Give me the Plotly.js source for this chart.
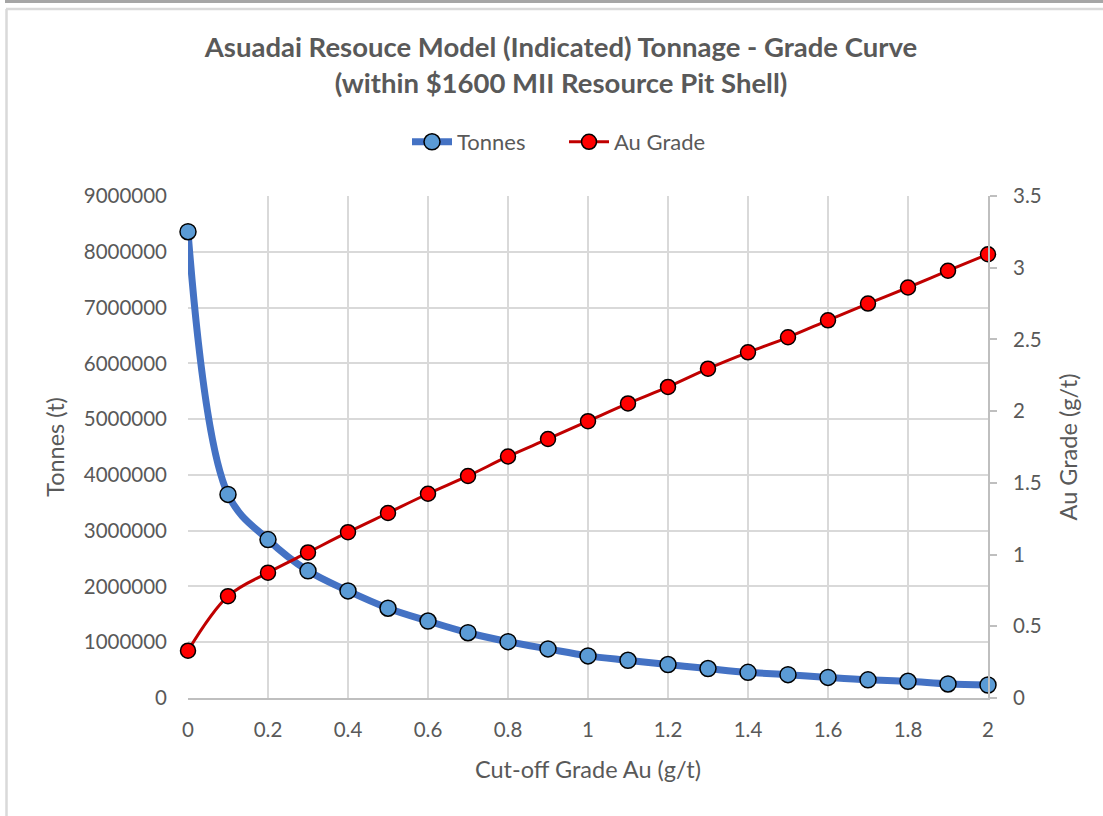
<!DOCTYPE html>
<html>
<head>
<meta charset="utf-8">
<script src="https://cdn.plot.ly/plotly-3.0.1.min.js"></script>
<style>
  html, body { margin: 0; padding: 0; background: #ffffff; }
  #chart { width: 1103px; height: 816px; }
</style>
</head>
<body>
<div id="chart"></div>
<script>
// Data
const cutoffGrades = [0, 0.1, 0.2, 0.3, 0.4, 0.5, 0.6, 0.7, 0.8, 0.9, 1.0, 1.1, 1.2, 1.3, 1.4, 1.5, 1.6, 1.7, 1.8, 1.9, 2.0];
const tonnes = [8360000, 3650000, 2840000, 2280000, 1920000, 1610000, 1380000, 1170000, 1010000, 880000, 755000, 676000, 600000, 528000, 460000, 418000, 369000, 326000, 300000, 252000, 233000];
const auGrade = [0.33, 0.71, 0.874, 1.015, 1.156, 1.29, 1.424, 1.548, 1.684, 1.806, 1.93, 2.054, 2.169, 2.296, 2.41, 2.515, 2.633, 2.75, 2.862, 2.979, 3.094];
const xTicks = [0, 0.2, 0.4, 0.6, 0.8, 1, 1.2, 1.4, 1.6, 1.8, 2];
const xTickText = ["0", "0.2", "0.4", "0.6", "0.8", "1", "1.2", "1.4", "1.6", "1.8", "2"];
const leftTicks = [0, 1000000, 2000000, 3000000, 4000000, 5000000, 6000000, 7000000, 8000000, 9000000];
const leftTickText = ["0", "1000000", "2000000", "3000000", "4000000", "5000000", "6000000", "7000000", "8000000", "9000000"];
const rightTicks = [0, 0.5, 1, 1.5, 2, 2.5, 3, 3.5];
const rightTickText = ["0", "0.5", "1", "1.5", "2", "2.5", "3", "3.5"];

const FONT = "Lato, 'Open Sans', 'DejaVu Sans', sans-serif";
const TXT = "#595959";

const traces = [
  {
    x: cutoffGrades, y: tonnes, name: "Tonnes", type: "scatter", mode: "lines+markers",
    line: { color: "#4472c4", width: 7, shape: "spline", smoothing: 1 },
    marker: { color: "#5b9bd5", size: 16, line: { color: "#000000", width: 1.5 } },
    cliponaxis: false, yaxis: "y"
  },
  {
    x: cutoffGrades, y: auGrade, name: "Au Grade", type: "scatter", mode: "lines+markers",
    line: { color: "#c00000", width: 3, shape: "spline", smoothing: 1 },
    marker: { color: "#ff0000", size: 15, line: { color: "#000000", width: 1.5 } },
    cliponaxis: false, yaxis: "y2"
  }
];

const px = p => (p - 188) / 800;
const py = p => (698 - p) / 502;

const layout = {
  width: 1103, height: 816,
  margin: { l: 188, r: 115, t: 196, b: 118, pad: 0 },
  paper_bgcolor: "#ffffff", plot_bgcolor: "#ffffff",
  font: { family: FONT, color: TXT, size: 20 },
  title: {
    text: "<b>Asuadai Resouce Model (Indicated) Tonnage - Grade Curve<br>(within $1600 MII Resource Pit Shell)</b>",
    font: { family: FONT, size: 27.5, color: TXT },
    x: 561 / 1103, xref: "container", xanchor: "center",
    y: 1 - 57 / 816, yref: "container", yanchor: "top"
  },
  showlegend: true,
  legend: {
    orientation: "h", x: px(564), xanchor: "center", y: py(142), yanchor: "middle",
    font: { family: FONT, size: 22, color: TXT }, bgcolor: "rgba(0,0,0,0)",
    traceorder: "normal", itemwidth: 40, entrywidth: 102, entrywidthmode: "pixels"
  },
  xaxis: {
    range: [0, 2], tickvals: xTicks, ticktext: xTickText, showgrid: true,
    gridcolor: "#d9d9d9", gridwidth: 2, zeroline: false,
    showline: true, linecolor: "#bfbfbf", linewidth: 2,
    ticks: "", ticklabelstandoff: 12, tickfont: { family: FONT, size: 20.5, color: TXT },
    title: { text: "Cut-off Grade Au (g/t)", font: { family: FONT, size: 23.5, color: TXT }, standoff: 22 },
    fixedrange: true
  },
  yaxis: {
    range: [0, 9000000], tickvals: leftTicks, ticktext: leftTickText, showgrid: true,
    gridcolor: "#d9d9d9", gridwidth: 2, zeroline: false, showline: false,
    ticks: "", ticklabelstandoff: 20, tickfont: { family: FONT, size: 20.5, color: TXT },
    title: { text: "Tonnes (t)", font: { family: FONT, size: 23.5, color: TXT }, standoff: 12 },
    fixedrange: true
  },
  yaxis2: {
    range: [0, 3.5], tickvals: rightTicks, ticktext: rightTickText, overlaying: "y", side: "right",
    showgrid: false, zeroline: false, showline: true, linecolor: "#bfbfbf", linewidth: 2,
    ticks: "outside", ticklen: 7, tickwidth: 2, tickcolor: "#bfbfbf", ticklabelstandoff: 12,
    tickfont: { family: FONT, size: 20.5, color: TXT },
    title: { text: "Au Grade (g/t)", font: { family: FONT, size: 23.5, color: TXT }, standoff: 20 },
    fixedrange: true
  },
  shapes: [
    { type: "line", xref: "paper", yref: "paper", x0: px(5), x1: px(1103), y0: py(1.5), y1: py(1.5),
      line: { color: "#a6a6a6", width: 3 } },
    { type: "line", xref: "paper", yref: "paper", x0: px(6), x1: px(1103), y0: py(9), y1: py(9),
      line: { color: "#d9d9d9", width: 2.5 } },
    { type: "line", xref: "paper", yref: "paper", x0: px(6.5), x1: px(6.5), y0: py(9), y1: py(816),
      line: { color: "#d9d9d9", width: 2.5 } }
  ]
};

Plotly.newPlot("chart", traces, layout, { displayModeBar: false, responsive: false, staticPlot: true });
</script>
</body>
</html>
